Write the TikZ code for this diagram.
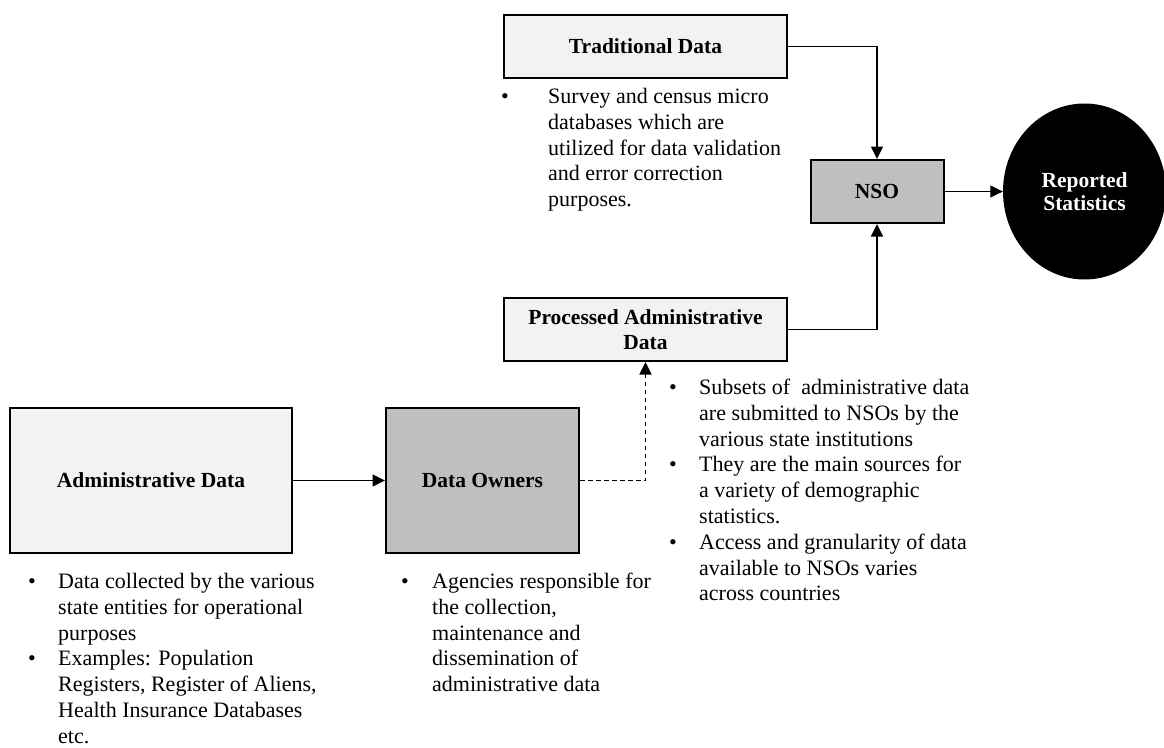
\documentclass[tikz,border=0pt]{standalone}
\usepackage{fontspec}
\setmainfont{Liberation Serif}
\usetikzlibrary{arrows.meta,shapes.geometric}
\definecolor{lightbox}{HTML}{F2F2F2}
\definecolor{darkbox}{HTML}{BFBFBF}
\newcommand{\bodyfnt}{\fontsize{22}{25.8}\selectfont}
\newcommand{\titlefnt}{\fontsize{21.5}{25}\selectfont\bfseries}
\newcommand{\circfnt}{\fontsize{21.5}{22.5}\selectfont\bfseries}
\begin{document}
\begin{tikzpicture}[x=1pt,y=-1pt,
  box/.style={draw=black, line width=2pt, inner sep=0pt, align=center, font=\titlefnt},
  lightbox/.style={box, fill=lightbox},
  darkbox/.style={box, fill=darkbox},
  conn/.style={line width=1.1pt, -{Triangle[length=12.5pt,width=12pt]}},
  dconn/.style={conn, dash pattern=on 4.5pt off 3.5pt},
  notes/.style={anchor=base west, inner sep=0pt, font=\bodyfnt}]
\useasboundingbox (0,0) rectangle (1164,747);

% boxes
\node[lightbox, minimum width=283pt, minimum height=63pt] (trad) at (645.5,46.5) {Traditional Data};
\node[lightbox, minimum width=283pt, minimum height=63pt] (proc) at (645.5,329.5) {Processed Administrative\\Data};
\node[darkbox, minimum width=133pt, minimum height=63pt] (nso) at (877,191.5) {NSO};
\node[lightbox, minimum width=282pt, minimum height=145pt] (admin) at (151,480.5) {Administrative Data};
\node[darkbox, minimum width=193pt, minimum height=145pt] (owners) at (482.5,480.5) {Data Owners};
\node[ellipse, fill=black, text=white, inner sep=0pt, minimum width=163pt, minimum height=176pt, align=center, font=\circfnt] (stats) at (1084.5,191.5) {Reported\\Statistics};

% notes
\node[notes] (tradnote) at (501,103.5) {\begin{tabular}[t]{@{}p{47pt}@{}l@{}}
\textbullet & Survey and census micro\\
 & databases which are\\
 & utilized for data validation\\
 & and error correction\\
 & purposes.
\end{tabular}};
\node[notes] (procnote) at (669,394.5) {\begin{tabular}[t]{@{}p{30pt}@{}l@{}}
\textbullet & Subsets of\ \ administrative data\\
 & are submitted to NSOs by the\\
 & various state institutions\\
\textbullet & They are the main sources for\\
 & a variety of demographic\\
 & statistics.\\
\textbullet & Access and granularity of data\\
 & available to NSOs varies\\
 & across countries
\end{tabular}};
\node[notes] (adminnote) at (28,588.5) {\begin{tabular}[t]{@{}p{30pt}@{}l@{}}
\textbullet & Data collected by the various\\
 & state entities for operational\\
 & purposes\\
\textbullet & Examples: Population\\
 & Registers, Register of Aliens,\\
 & Health Insurance Databases\\
 & etc.
\end{tabular}};
\node[notes] (ownersnote) at (401,588.5) {\begin{tabular}[t]{@{}p{31pt}@{}l@{}}
\textbullet & Agencies responsible for\\
 & the collection,\\
 & maintenance and\\
 & dissemination of\\
 & administrative data
\end{tabular}};

% connectors
\draw[conn] (trad.east) -| (nso.north);
\draw[conn] (proc.east) -| (nso.south);
\draw[conn] (nso.east) -- (stats.west);
\draw[conn] (admin.east) -- (owners.west);
\draw[dconn] (owners.east) -| (proc.south);
\end{tikzpicture}
\end{document}
